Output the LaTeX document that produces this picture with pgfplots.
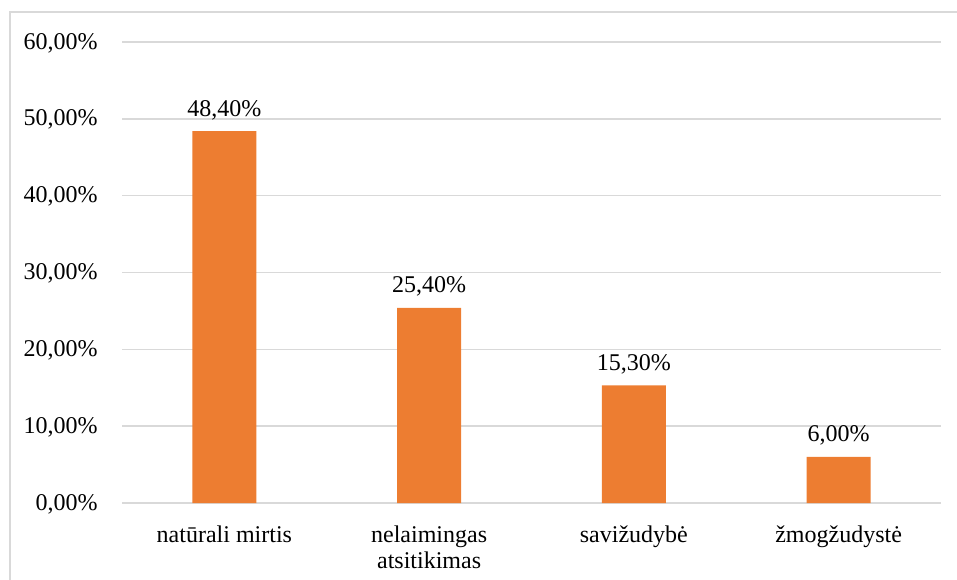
\documentclass[border=0pt]{standalone}
\usepackage{fontspec}
\setmainfont{Liberation Serif}
\usepackage{pgfplots}
\pgfplotsset{compat=1.18}
\definecolor{barorange}{HTML}{ED7D31}
\definecolor{gridgray}{HTML}{D9D9D9}
\begin{document}
\fontsize{12}{14.4}\selectfont
\begin{tikzpicture}[x=1pt,y=1pt]
% page frame: 957x579 px at 0.5pt per px
\useasboundingbox (-61,-38) rectangle (417.5,251.5);
\draw[gridgray, line width=0.75pt] (-56,-40) -- (-56,245.5) -- (420,245.5);
\begin{axis}[
    at={(0,0)}, anchor=origin,
    scale only axis,
    width=409.5pt, height=230.5pt,
    xmin=0, xmax=4,
    ymin=0, ymax=60,
    ybar, bar width=32pt,
    axis line style={draw=none},
    tick style={draw=none},
    ymajorgrids=true,
    grid style={gridgray, line width=0.75pt},
    ytick={0,10,20,30,40,50,60},
    yticklabels={{0,00\%},{10,00\%},{20,00\%},{30,00\%},{40,00\%},{50,00\%},{60,00\%}},
    yticklabel style={anchor=east, xshift=-8pt, yshift=-0.5pt},
    xtick={0.5,1.5,2.5,3.5},
    xticklabels={natūrali mirtis,{nelaimingas\\atsitikimas},savižudybė,žmogžudystė},
    xticklabel style={align=center, yshift=-3pt, font=\fontsize{12}{13.2}\selectfont},
    /pgf/number format/assume math mode=true,
    nodes near coords={\pgfmathprintnumber[fixed,fixed zerofill,precision=2,use comma]{\pgfplotspointmeta}\%},
    every node near coord/.append style={font=\fontsize{12}{14.4}\selectfont, yshift=1.5pt},
]
\addplot[fill=barorange, draw=none] coordinates {
    (0.5,48.4) (1.5,25.4) (2.5,15.3) (3.5,6.0)
};
\end{axis}
\end{tikzpicture}
\end{document}
